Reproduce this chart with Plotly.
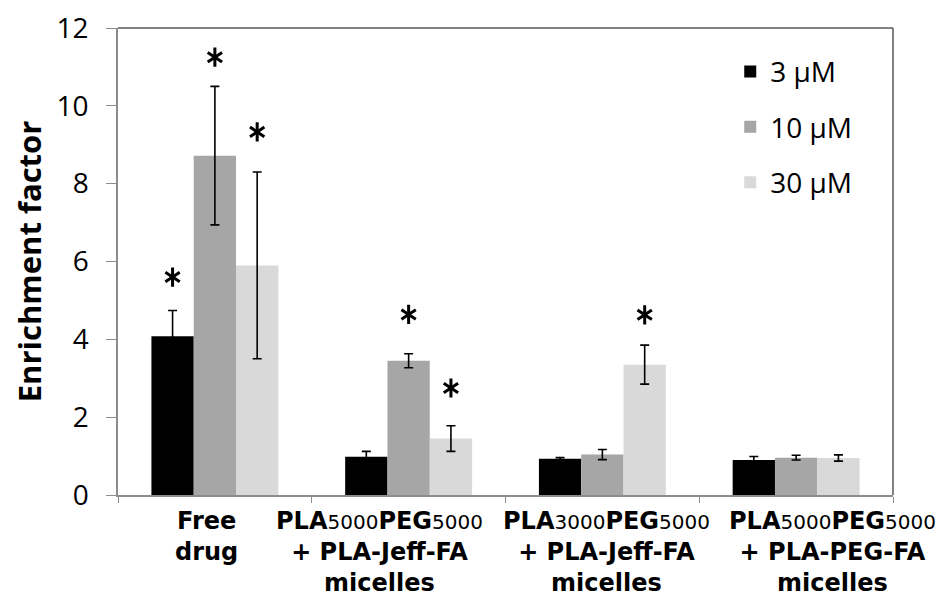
import plotly.graph_objects as go

FONT = "Open Sans"
LABEL_FONT = "DejaVu Sans"

categories = ["Free drug", "PLA5000PEG5000 + PLA-Jeff-FA micelles",
              "PLA3000PEG5000 + PLA-Jeff-FA micelles", "PLA5000PEG5000 + PLA-PEG-FA micelles"]

SUB = "<span style='font-size:20px;font-weight:normal'>{}</span>"
category_labels = [
    "<b>Free</b><br><b>drug</b>",
    "<b>PLA</b>" + SUB.format("5000") + "<b>PEG</b>" + SUB.format("5000") + "<br><b>+ PLA-Jeff-FA</b><br><b>micelles</b>",
    "<b>PLA</b>" + SUB.format("3000") + "<b>PEG</b>" + SUB.format("5000") + "<br><b>+ PLA-Jeff-FA</b><br><b>micelles</b>",
    "<b>PLA</b>" + SUB.format("5000") + "<b>PEG</b>" + SUB.format("5000") + "<br><b>+ PLA-PEG-FA</b><br><b>micelles</b>",
]
label_shift_px = [-8, -29, 4, 36]

series_names = ["3 µM", "10 µM", "30 µM"]
series_colors = ["#000000", "#a6a6a6", "#d9d9d9"]

vals_3uM = [4.08, 0.98, 0.93, 0.90]
vals_10uM = [8.72, 3.45, 1.04, 0.96]
vals_30uM = [5.90, 1.45, 3.35, 0.95]

err_3uM = [0.66, 0.14, 0.03, 0.09]
err_10uM = [1.78, 0.18, 0.13, 0.06]
err_30uM = [2.40, 0.33, 0.50, 0.08]

star_3uM = [5.6, None, None, None]
star_10uM = [11.25, 4.64, None, None]
star_30uM = [9.33, 2.75, 4.63, None]

values = [vals_3uM, vals_10uM, vals_30uM]
errors = [err_3uM, err_10uM, err_30uM]
stars = [star_3uM, star_10uM, star_30uM]

fig = go.Figure()
for i in range(3):
    fig.add_trace(go.Bar(
        x=categories, y=values[i], name=series_names[i],
        marker=dict(color=series_colors[i], line=dict(width=0)),
        error_y=dict(type="data", array=errors[i], visible=True,
                     color="black", thickness=1.6, width=4.5),
        legendgroup=f"g{i}", offsetgroup=f"o{i}",
    ))
# asterisks: two overlaid 3-arm symbols make a 6-arm star
for i in range(3):
    for sym in ["y-up-open", "y-down-open"]:
        fig.add_trace(go.Scatter(
            x=categories, y=stars[i], mode="markers",
            marker=dict(symbol=sym, size=12, line=dict(width=3, color="black"), color="black"),
            showlegend=False, offsetgroup=f"o{i}", hoverinfo="skip",
        ))

annotations = []
for cat, lab, dx in zip(categories, category_labels, label_shift_px):
    annotations.append(dict(
        x=cat, xref="x", y=0, yref="paper", yanchor="top", xanchor="center",
        text=lab, showarrow=False, xshift=dx, yshift=-10, align="center",
        font=dict(family=LABEL_FONT, size=24, color="black"),
    ))

# page body adds an 8px offset, so the figure is drawn 8px smaller
fig.update_layout(
    width=936, height=591,
    margin=dict(l=110, r=51, t=20, b=104, autoexpand=False),
    paper_bgcolor="white", plot_bgcolor="white",
    barmode="group", bargap=0.345, bargroupgap=0,
    scattermode="group", scattergap=0.345,
    font=dict(family=FONT, color="black"),
    legend=dict(
        x=0.79, y=0.96, xanchor="left", yanchor="top",
        font=dict(family=FONT, size=28, color="black"),
        tracegroupgap=16, itemwidth=30, bgcolor="rgba(0,0,0,0)",
    ),
    showlegend=True,
    annotations=annotations,
    shapes=[
        dict(type="line", xref="paper", yref="paper", x0=0, x1=1, y0=1, y1=1,
             line=dict(color="#595959", width=1.5)),
        dict(type="line", xref="paper", yref="paper", x0=1, x1=1, y0=0, y1=1,
             line=dict(color="#595959", width=1.5)),
    ],
)
fig.update_xaxes(
    type="category", range=[-0.5, len(categories) - 0.5],
    showline=True, linecolor="#8c8c8c", linewidth=1.5,
    ticks="outside", tickson="boundaries", ticklen=6, tickcolor="#8c8c8c",
    showticklabels=False, showgrid=False, automargin=False,
)
fig.update_yaxes(
    range=[0, 12], tickvals=[0, 2, 4, 6, 8, 10, 12],
    showline=True, linecolor="#8c8c8c", linewidth=1.5,
    ticks="outside", ticklen=10, tickcolor="#8c8c8c",
    tickfont=dict(family=FONT, size=28, color="black"), showgrid=False,
    zeroline=False, automargin=False, ticklabelstandoff=12, ticklabeloverflow="allow",
    title=dict(text="<b>Enrichment factor</b>", font=dict(family=FONT, size=31, color="black"),
               standoff=16),
)

fig.write_html("out.html")
